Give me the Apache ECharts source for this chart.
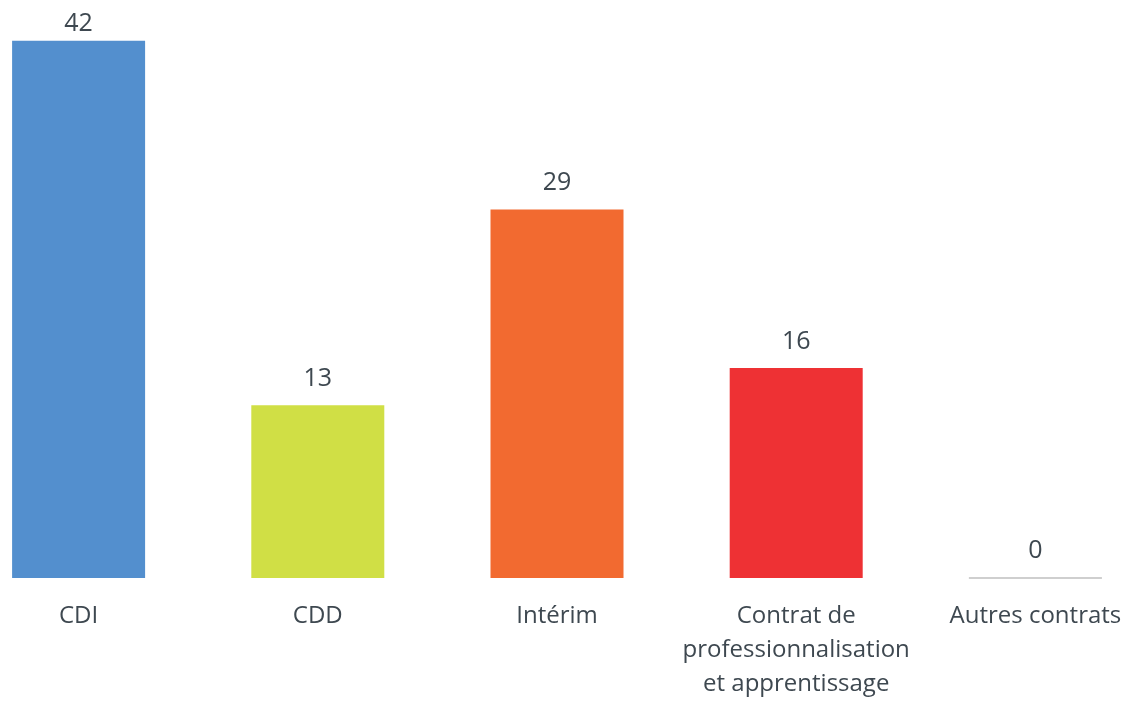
<!DOCTYPE html>
<html>
<head>
<meta charset="utf-8">
<script src="https://cdn.jsdelivr.net/npm/echarts@6/dist/echarts.min.js"></script>
<style>
  html, body { margin: 0; padding: 0; background: #fff; overflow: hidden; width: 1126px; height: 701px; }
  /* the original image is cropped on both sides, so the chart is wider than the window */
  #chart { position: absolute; left: -41px; top: 0; width: 1196px; height: 701px; }
</style>
</head>
<body>
<div id="chart"></div>
<script>
const categories = [
  "CDI",
  "CDD",
  "Intérim",
  "Contrat de\nprofessionnalisation\net apprentissage",
  "Autres contrats"
];
const values = [41.7, 13.4, 28.6, 16.3, 0];
const barColors = ["#538fce", "#d0df45", "#f26a30", "#ee3134", "#bfbfbf"];

const textColor = "#3e4850";
const chart = echarts.init(document.getElementById("chart"));

const option = {
  animation: false,
  grid: { left: 0, right: 0, top: 11, height: 573, containLabel: false },
  xAxis: {
    type: "category",
    data: categories,
    axisLine: { show: false },
    axisTick: { show: false },
    axisLabel: {
      color: textColor,
      fontFamily: "Open Sans",
      fontSize: 24,
      lineHeight: 34,
      margin: 21,
      interval: 0
    }
  },
  yAxis: {
    type: "value",
    min: 0,
    max: 44,
    show: false,
    splitLine: { show: false }
  },
  series: [
    {
      type: "bar",
      barWidth: 133,
      data: values.map((v, i) => ({
        value: v,
        itemStyle: v === 0
          ? { color: barColors[i], borderColor: barColors[i], borderWidth: 1 }
          : { color: barColors[i] },
        // the tallest label sits closer to its bar (top of the picture)
        label: i === 0 ? { distance: 4 } : undefined
      })),
      label: {
        show: true,
        position: "top",
        distance: 14,
        color: textColor,
        fontFamily: "Open Sans",
        fontSize: 25,
        formatter: (p) => Math.round(p.value)
      }
    }
  ]
};

chart.setOption(option);
</script>
</body>
</html>
